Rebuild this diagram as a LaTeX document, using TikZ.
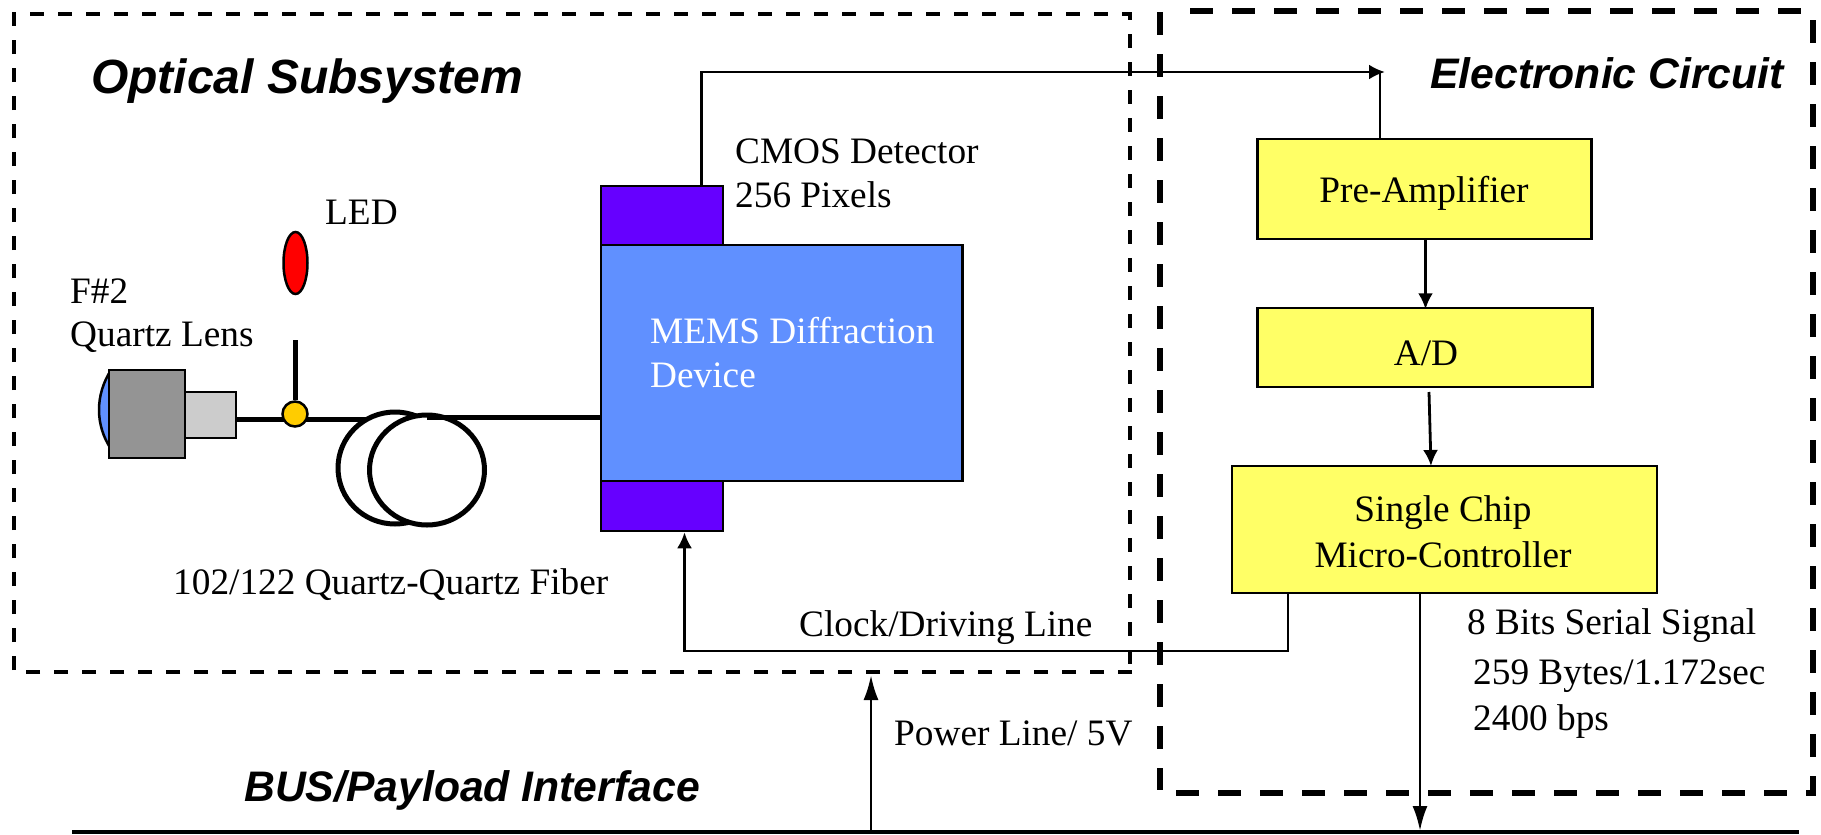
\documentclass[tikz,border=0pt]{standalone}
\usepackage{xcolor}
\usepackage{fontspec}
\setmainfont{Liberation Serif}
\setsansfont{Liberation Sans}
\usepackage{tikz}
\usetikzlibrary{arrows.meta, shapes.geometric}

\definecolor{memsblue}{HTML}{6090FF}
\definecolor{padviolet}{HTML}{6600FF}
\definecolor{boxyellow}{HTML}{FFFF66}
\definecolor{jointgold}{HTML}{FFCC00}

\tikzset{
    txt/.style={inner sep=0, anchor=west, font=\fontsize{37.3}{37.3}\selectfont},
    head/.style={inner sep=0, anchor=west, font=\fontsize{42.7}{42.7}\selectfont\sffamily\bfseries\itshape},
    elec/.style={draw, line width=2.5pt, fill=boxyellow, inner sep=0},
    pad/.style={draw, line width=2.5pt, fill=padviolet, inner sep=0, minimum width=122pt},
    wire/.style={line width=2.8pt},
    fiber/.style={line width=5pt},
    arr/.style={wire, -{Latex[length=16pt, width=15pt]}},
    longarr/.style={wire, -{Latex[length=25pt, width=15pt]}},
    heavydash/.style={line width=6pt, dash pattern=on 23pt off 19pt}
}

\begin{document}
\begin{tikzpicture}[x=1pt, y=-1pt]
    \useasboundingbox (0, 0) rectangle (1821, 835);

    % frames
    \draw [line width=4pt, dash pattern=on 14pt off 14pt] (1132, 672) -- (14, 672) -- (14, 14) -- (1130, 14) -- (1130, 672);
    \foreach \xa/\ya/\xb/\yb in {1160/12/1160/790, 1190/11/1813/11, 1813/20/1813/796, 1176/793/1813/793}
        \draw [heavydash] (\xa, \ya) -- (\xb, \yb);

    % free ends
    \coordinate (busl) at (72, 832);
    \coordinate (busr) at (1799, 832);
    \coordinate (powerbus) at (871, 832);
    \coordinate (powertip) at (871, 675);
    \coordinate (outcorner) at (701.5, 72);
    \coordinate (outtip) at (1385, 72);
    \coordinate (serialbus) at (1420, 831);
    \coordinate (clockright) at (1288, 651);
    \coordinate (clockleft) at (684.5, 651);
    \coordinate (adcout) at (1429, 392);
    \coordinate (mcuin) at (1431, 466);

    % fiber and coil
    \draw [fiber] (236, 419) -- (384, 419);
    \node (coila) [draw, fiber, ellipse, fill=white, minimum width=114pt, minimum height=112pt, inner sep=0] at (395, 468) {};
    \node (coilb) [draw, fiber, ellipse, fill=white, minimum width=115pt, minimum height=110pt, inner sep=0] at (427, 470) {};
    \draw [fiber] (427, 417) -- (601, 417);

    % lens
    \draw [line width=2.5pt, fill=memsblue] (111, 370) .. controls (95, 395) and (95, 425) .. (111, 449);
    \node (lens) [draw, line width=2.5pt, fill=black!42, inner sep=0, minimum width=76pt, minimum height=88pt] at (147, 414) {};
    \node (ferrule) [draw, line width=2pt, fill=black!20, inner sep=0, minimum width=51pt, minimum height=46pt] at (210.5, 415) {};

    % led
    \node (led) [draw, line width=2.5pt, fill=red, ellipse, inner sep=0, minimum width=24pt, minimum height=62pt] at (295.5, 263) {};
    \coordinate (stem) at (295, 340);
    \node (joint) [draw, line width=2.5pt, fill=jointgold, circle, inner sep=0, minimum size=25pt] at (295, 414) {};
    \draw [fiber] (stem) -- (joint.north);

    % detector
    \node (cmos) [pad, minimum height=60pt] at (662, 216) {};
    \node (driver) [pad, minimum height=50pt] at (662, 506) {};
    \node (mems) [draw, line width=2.5pt, fill=memsblue, inner sep=0, minimum width=361.5pt, minimum height=236pt] at (781.5, 363) {};

    % electronics
    \node (preamp) [elec, minimum width=334pt, minimum height=100pt] at (1424.5, 189) {};
    \node (adc) [elec, minimum width=335pt, minimum height=79pt] at (1425, 347.5) {};
    \node (mcu) [elec, minimum width=425pt, minimum height=127pt] at (1444.5, 529.5) {};

    % connectors
    \draw [line width=3.5pt] (busl) -- (busr);
    \draw [longarr] (powerbus) -- (powertip);
    \draw [arr] (cmos.north -| outcorner) -- (outcorner) -- (outtip);
    \draw [wire] (preamp.north -| outtip) ++(-5, 0) -- ++(0, -66);
    \draw [arr] (preamp.south) ++(1, 0) -- ++(0, 69);
    \draw [arr] (adcout) -- (mcuin);
    \draw [longarr] (mcu.south -| serialbus) -- (serialbus);
    \draw [arr] (mcu.south -| clockright) -- (clockright) -- (clockleft) -- (driver.south -| clockleft);

    % labels
    \node (opttitle) [head, font=\fontsize{48}{48}\selectfont\sffamily\bfseries\itshape] at (91, 81) {Optical Subsystem};
    \node (electitle) [head] at (1430, 73) {Electronic Circuit};
    \node (bustitle) [head] at (244, 790) {BUS/Payload Interface};
    \node (cmosa) [txt] at (735, 151) {CMOS Detector};
    \node (cmosb) [txt] at (735, 195) {256 Pixels};
    \node (ledtxt) [txt] at (325, 212) {LED};
    \node (fnum) [txt] at (70, 291) {F\#2};
    \node (lenstxt) [txt] at (70, 337) {Quartz Lens};
    \node (memsa) [txt, text=white] at (650, 331) {MEMS Diffraction};
    \node (memsb) [txt, text=white] at (650, 375) {Device};
    \node (fibertxt) [txt] at (173, 585) {102/122 Quartz-Quartz Fiber};
    \node (preamptxt) [txt, anchor=center] at (1424, 193) {Pre-Amplifier};
    \node (adctxt) [txt, anchor=center] at (1426, 353) {A/D};
    \node (mcua) [txt, anchor=center] at (1443, 513) {Single Chip};
    \node (mcub) [txt, anchor=center] at (1443, 555) {Micro-Controller};
    \node (clocktxt) [txt] at (799, 628) {Clock/Driving Line};
    \node (powertxt) [txt] at (894, 733) {Power Line/ 5V};
    \node (seriala) [txt] at (1467, 626) {8 Bits Serial Signal};
    \node (serialb) [txt] at (1473, 676) {259 Bytes/1.172sec};
    \node (serialc) [txt] at (1473, 722) {2400 bps};
\end{tikzpicture}
\end{document}
